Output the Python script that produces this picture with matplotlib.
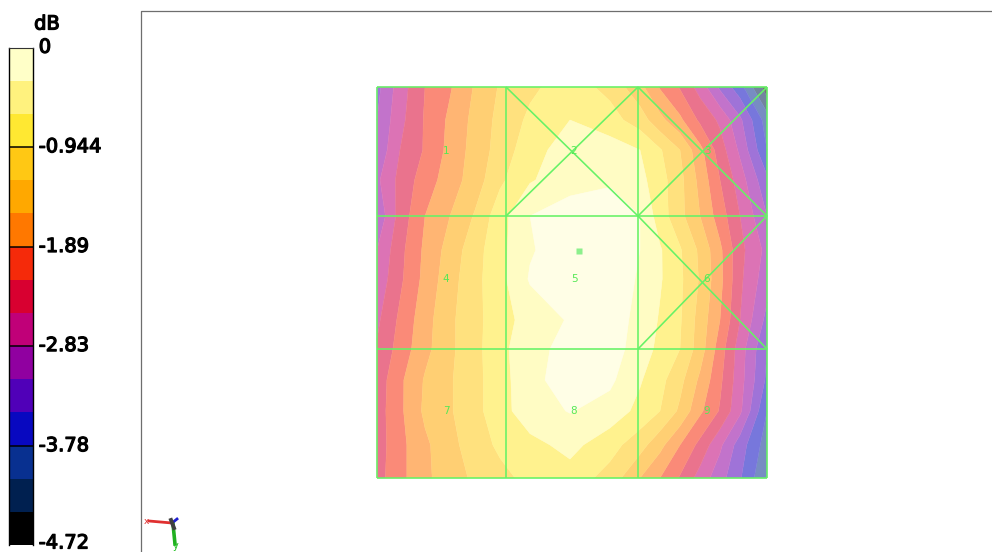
import numpy as np
import matplotlib
matplotlib.use("Agg")
import matplotlib.pyplot as plt
import matplotlib.patheffects as pe
from matplotlib.transforms import ScaledTranslation

W, H = 992, 552
TICK_DB = [0, -0.944, -1.89, -2.83, -3.78, -4.72]
TICK_LABELS = ["0", "-0.944", "-1.89", "-2.83", "-3.78", "-4.72"]
BAND_COLORS = ["#ffffc8", "#fff27e", "#ffe832", "#ffc814", "#ffa800", "#ff7800", "#f52a0a",
               "#d80030", "#c00078", "#9000a0", "#5000b8", "#0808c0", "#083090", "#002050", "#000000"]
MAP_ALPHA = 0.55

# measurement positions and attenuation (in units of one colour band, 4.72/15 dB)
X_POS = [377, 400, 425, 450, 475, 500, 530, 570, 610, 640, 660, 680, 700, 720, 740, 767]
Y_POS = [87, 120, 150, 180, 216, 250, 279, 320, 349, 380, 411, 445, 478]
ATTEN = [
    [10.3, 8.5, 7.0, 6.1, 4.9, 3.9, 3.2, 2.5, 3.3, 4.7, 6.1, 7.1, 8.4, 10.2, 11.6, 14.6],
    [10.0, 8.3, 6.9, 5.8, 4.7, 3.7, 2.8, 2.0, 2.6, 3.5, 4.7, 5.8, 7.2, 8.2, 9.8, 12.5],
    [9.8, 8.0, 6.9, 5.7, 4.6, 3.6, 2.4, 1.5, 1.5, 2.0, 2.9, 4.0, 5.7, 7.5, 9.2, 12.0],
    [9.2, 7.7, 6.5, 5.5, 4.5, 3.2, 2.1, 1.4, 1.1, 1.7, 2.6, 3.7, 5.3, 7.0, 8.5, 10.8],
    [9.8, 7.6, 6.0, 5.0, 3.9, 2.4, 1.0, 0.5, 0.6, 1.0, 2.5, 3.7, 5.0, 6.5, 8.0, 10.0],
    [9.0, 7.3, 5.8, 4.6, 3.4, 2.3, 1.1, 0.4, 0.5, 1.0, 1.9, 2.9, 4.2, 5.8, 7.7, 9.3],
    [8.7, 7.2, 5.7, 4.4, 3.3, 2.3, 0.9, 0.5, 0.5, 1.1, 1.9, 2.8, 4.1, 5.7, 7.8, 9.6],
    [8.2, 6.8, 5.4, 4.2, 3.3, 2.4, 1.6, 0.9, 0.5, 1.3, 2.1, 2.9, 4.4, 6.0, 8.0, 10.3],
    [7.9, 6.6, 5.3, 4.2, 3.3, 2.3, 1.3, 0.7, 0.6, 1.4, 2.3, 3.0, 4.5, 6.5, 8.5, 11.0],
    [7.6, 6.2, 4.9, 4.1, 3.3, 2.4, 1.3, 0.5, 0.8, 1.9, 2.7, 3.7, 5.2, 6.8, 8.6, 11.2],
    [7.5, 6.2, 4.8, 4.1, 3.3, 2.4, 1.4, 0.95, 1.4, 2.3, 3.0, 4.2, 5.8, 7.1, 8.8, 12.0],
    [7.5, 6.3, 5.2, 4.3, 3.5, 2.8, 2.3, 1.7, 2.6, 3.6, 4.7, 6.0, 7.3, 8.8, 10.5, 12.5],
    [7.4, 6.3, 5.2, 4.5, 3.8, 3.3, 2.7, 2.4, 3.4, 5.0, 6.0, 7.1, 8.4, 9.6, 10.9, 13.0],
]

# mesh of the surface
MESH_X = [377, 506, 638, 767]
MESH_Y = [87, 216, 349, 478]
CROSSED_CELLS = [(1, 0), (2, 0), (2, 1)]
CELL_LABELS = ["1", "2", "3", "4", "5", "6", "7", "8", "9"]
LABEL_X = [446, 574, 707]
LABEL_Y = [151, 279, 411]
PEAK = (579, 251)
MESH_COLOR = "#66f266"


def blend(c, a):
    r = np.array(matplotlib.colors.to_rgb(c))
    return tuple(1 - a + a * r)


fig = plt.figure(figsize=(W / 100, H / 100), dpi=100, facecolor="white")

# main canvas in pixel-like coordinates
ax = fig.add_axes([0, 0, 1, 1])
ax.set_xlim(0, W)
ax.set_ylim(H, 0)
ax.axis("off")

# frame of the view
ax.plot([140.5, 140.5, W], [H, 10.5, 10.5], color="#6e6e6e", lw=0.9, solid_capstyle="butt")

# surface contours
step = 4.72 / 15
field = -np.array(ATTEN) * step
levels = -np.arange(15, -1, -1) * step
map_colors = [blend(c, MAP_ALPHA) for c in BAND_COLORS[::-1]]
map_colors[-1] = "#fffee6"
map_colors[-2] = "#fffcc4"
cs = ax.contourf(X_POS, Y_POS, field, levels=levels, colors=map_colors, antialiased=True)
cs.set_edgecolor("face")
cs.set_linewidth(0.3)

# mesh
line_kw = dict(color=MESH_COLOR, lw=1.15, solid_capstyle="butt")
for x in MESH_X:
    ax.plot([x, x], [MESH_Y[0], MESH_Y[-1]], **line_kw)
for y in MESH_Y:
    ax.plot([MESH_X[0], MESH_X[-1]], [y, y], **line_kw)
for i, j in CROSSED_CELLS:
    x0, x1, y0, y1 = MESH_X[i], MESH_X[i + 1], MESH_Y[j], MESH_Y[j + 1]
    ax.plot([x0, x1], [y0, y1], **line_kw)
    ax.plot([x0, x1], [y1, y0], **line_kw)
k = 0
for ly in LABEL_Y:
    for lx in LABEL_X:
        ax.text(lx, ly, CELL_LABELS[k], color="#55e855", fontsize=7.5, ha="center", va="center")
        k += 1
ax.plot(*PEAK, marker="s", ms=5, color="#8cf08c", mec="none")

# orientation triad
ax.plot([149, 172], [521, 523], color="#e03030", lw=2.0)
ax.plot([173, 175], [524, 544], color="#20b020", lw=2.6)
ax.plot([172, 177], [523, 519], color="#2020d0", lw=2.0)
ax.plot([171, 174], [520, 528], color="#404040", lw=2.8)
ax.text(146, 521, "x", color="#e03030", fontsize=6.5, ha="center", va="center")
ax.text(176, 546, "y", color="#20c020", fontsize=7, ha="center", va="center")

# colour bar
cax = fig.add_axes([8.5 / W, 1 - 545 / H, 24 / W, (545 - 47.5) / H])
edges = np.linspace(-4.72, 0, 16)
cax.pcolormesh([0, 1], edges, np.arange(15)[:, None],
               cmap=matplotlib.colors.ListedColormap(BAND_COLORS[::-1]), vmin=0, vmax=14)
cax.set_xlim(0, 1)
cax.set_ylim(-4.72, 0)
cax.set_xticks([])
cax.yaxis.tick_right()
cax.set_yticks(TICK_DB)
cax.set_yticklabels(TICK_LABELS)
cax.tick_params(axis="y", length=0, pad=4.5, labelsize=14)
labels = cax.get_yticklabels()
for i, lab in enumerate(labels):
    dy = 4.0 if i == len(labels) - 1 else 2.2
    lab.set_path_effects([pe.withStroke(linewidth=0.9, foreground="black")])
    lab.set_fontfamily("DejaVu Sans")
    lab.set_transform(lab.get_transform() + ScaledTranslation(0, dy / 100, fig.dpi_scale_trans))
cax.hlines(TICK_DB[1:-1], 0, 1, color="black", lw=1.1)
cax.spines["top"].set_linewidth(0.8)
cax.spines["top"].set_color("#333333")
cax.spines["bottom"].set_visible(False)
for s in ("left", "right"):
    cax.spines[s].set_linewidth(1.0)

ax.text(47, 24, "dB", fontsize=14, ha="center", va="center", color="black",
        path_effects=[pe.withStroke(linewidth=0.9, foreground="black")])

fig.savefig("out.png", dpi=100, facecolor="white")
